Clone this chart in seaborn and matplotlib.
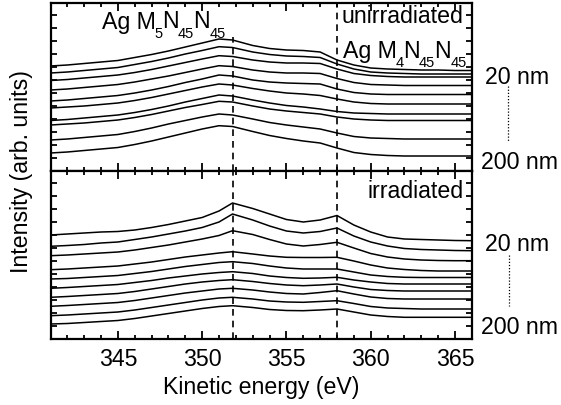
import matplotlib
matplotlib.use("Agg")
import matplotlib.pyplot as plt
from matplotlib.ticker import MultipleLocator
from matplotlib.lines import Line2D
import seaborn as sns
import pandas as pd

# ---------------- data ----------------
energy = [341, 342, 343, 344, 345, 346, 347, 348, 349, 350, 351, 351.8, 353,
          354, 355, 356, 357, 358, 359, 360, 361, 362, 363, 364, 365, 366]

depths_nm = [20, 40, 60, 80, 100, 120, 140, 160, 180, 200]

# unirradiated, offset spectra (arb. units), top = 20 nm
unirr_20 = [105, 106, 107.5, 109, 110.5, 113.5, 116.5, 120, 124, 128, 132, 131, 125.5, 122.5, 121, 120.5, 119, 111, 106, 103, 102, 101.5, 101, 101, 100.5, 100.5]
unirr_40 = [98, 99, 100.5, 102, 103.5, 106.5, 109.5, 113, 117, 120.5, 124.3, 123.5, 119, 116.5, 115, 114.5, 113.5, 107, 102, 99, 98, 97.5, 97, 97, 97, 97]
unirr_60 = [90.5, 91.5, 93, 94.5, 96, 98.5, 101.5, 105, 108.5, 112, 115.3, 114.5, 111, 109, 108, 108, 107.5, 102, 97.5, 95.5, 94.5, 94, 94, 94, 94, 94]
unirr_80 = [81, 82, 83.5, 85, 86.5, 89, 92, 95, 98.5, 102, 105.3, 104.5, 101, 99, 98, 98, 97.5, 92.5, 88.5, 86.5, 86, 85.5, 85.5, 85.5, 85.5, 85.5]
unirr_100 = [70, 71, 72.5, 74, 75.5, 78, 81, 84.5, 88.5, 92, 96, 95, 91, 89, 88, 87.5, 87, 82, 78.5, 77, 76.5, 76.5, 76.5, 76.5, 76.5, 76.5]
unirr_120 = [63, 64, 65, 66.5, 68, 70.5, 73.5, 77, 80.5, 84, 87, 86, 82.5, 80, 78, 77, 75.5, 72, 69, 67.5, 67, 67, 67, 67, 67, 67]
unirr_140 = [50.5, 51.5, 53, 54.5, 56, 58.5, 61.5, 65, 69, 72.5, 76, 75, 71, 68, 65.5, 64, 62, 59.5, 58, 57.5, 57, 57, 57, 57, 57, 57]
unirr_160 = [46, 47, 48, 49.5, 51, 53.5, 56.5, 60, 63.5, 66.5, 69.7, 69, 65, 62, 60, 58.5, 57, 54, 52, 51, 50.5, 50.5, 50.5, 50.5, 50.5, 50.5]
unirr_180 = [31, 32, 33.5, 35, 36.5, 39.5, 43, 47, 50.5, 54, 57, 56, 52, 48.5, 46, 44, 42, 38, 34.5, 33, 32.5, 32, 32, 32, 32, 32]
unirr_200 = [18, 19, 20.5, 22, 23.5, 26.5, 30, 34, 38, 42, 45.3, 44.5, 39.5, 35.5, 32.5, 30, 28, 23, 18.5, 16.5, 15.5, 15, 15, 15, 15, 15]

# irradiated, offset spectra (arb. units), top = 20 nm
irr_20 = [104, 105, 106, 107, 107.5, 109, 111.5, 114.5, 118, 121.5, 128, 136, 130.5, 125, 119.5, 117, 119, 123.5, 114, 107, 102, 100, 99.5, 99, 98.5, 98.3]
irr_40 = [92.7, 93.5, 94.5, 96, 97, 99.5, 102, 105, 108, 111.5, 117, 125, 119, 113, 108, 106, 107.5, 111, 103, 97, 93, 90.5, 89.5, 89, 88.5, 88.3]
irr_60 = [83.3, 84, 85, 86, 87, 89, 91.5, 94, 97, 100, 103.5, 108.3, 104.5, 99.5, 95, 93, 94.5, 96.7, 91, 85.5, 82, 80, 79, 78.5, 78.3, 78.3]
irr_80 = [69.3, 70, 71, 72, 73, 75, 77, 79.5, 82, 84, 86, 87.3, 85, 83, 81.7, 81.5, 81.5, 81.7, 78, 74, 71, 69.5, 68.5, 68, 68, 68]
irr_100 = [60, 60.5, 61.5, 62.5, 63.5, 65.5, 67.5, 70, 72.5, 74.5, 76.5, 77.3, 75.5, 73, 71, 70, 70, 70, 67, 64, 62.5, 61.7, 61.5, 61.5, 61.5, 61.5]
irr_120 = [50.7, 51.5, 52.5, 53.5, 54.5, 56.5, 58.5, 61, 63, 65, 66.5, 67.3, 65.5, 63, 61.5, 60.7, 61, 61.7, 59, 57, 55.5, 55, 55, 55, 55, 55]
irr_140 = [41.7, 42.5, 43.5, 44.5, 45.5, 47.5, 50, 52.5, 55, 57, 58.5, 59.3, 57.5, 55.5, 54, 53.3, 54, 55, 52, 49.5, 48.5, 48, 48, 48, 48, 48]
irr_160 = [32.7, 33.5, 34.5, 35.5, 36.5, 38.5, 41, 43.5, 46, 48, 50, 50.7, 49, 47, 45.5, 45, 46.5, 48.3, 45, 42, 40.5, 40, 40, 40, 40, 40]
irr_180 = [23.3, 24, 25, 26, 27, 29, 31.5, 34, 36.5, 39, 41, 41.7, 40, 38, 37, 36.7, 37.5, 38.3, 35.5, 32.5, 31, 30.5, 30, 30, 30, 30]
irr_200 = [15, 15.5, 16.5, 17.5, 18.5, 20.5, 23, 25.5, 28, 30.5, 32.5, 33.3, 31.5, 29.5, 28.5, 28.3, 29, 30, 27, 24, 22.5, 21.7, 21.7, 21.7, 21.7, 21.7]

unirradiated = [unirr_20, unirr_40, unirr_60, unirr_80, unirr_100,
                unirr_120, unirr_140, unirr_160, unirr_180, unirr_200]
irradiated = [irr_20, irr_40, irr_60, irr_80, irr_100,
              irr_120, irr_140, irr_160, irr_180, irr_200]

peak_positions = [351.8, 358.0]
x_ticks = [345, 350, 355, 360, 365]


def long_frame(spectra):
    rows = []
    for d, spec in zip(depths_nm, spectra):
        for e, v in zip(energy, spec):
            rows.append({"energy": e, "intensity": v, "depth": d})
    return pd.DataFrame(rows)


df_unirr = long_frame(unirradiated)
df_irr = long_frame(irradiated)

# ---------------- style ----------------
sns.set_style("ticks")
plt.rcParams["font.family"] = ["Liberation Sans", "DejaVu Sans"]
for key in ("text.color", "axes.labelcolor", "xtick.color", "ytick.color",
            "axes.edgecolor"):
    plt.rcParams[key] = "black"

FS = 16.7
SUB = 10.5
W, H = 561, 406
fig = plt.figure(figsize=(W / 100, H / 100), dpi=100)

left_px, right_px = 50.5, 471.8
top_px, mid_px, bot_px = 4, 172, 340
ax_w = (right_px - left_px) / W
ax_h = (mid_px - top_px) / H
ax_top = fig.add_axes([left_px / W, 1 - mid_px / H, ax_w, ax_h])
ax_bot = fig.add_axes([left_px / W, 1 - bot_px / H, ax_w, ax_h])

for ax, df in ((ax_top, df_unirr), (ax_bot, df_irr)):
    sns.lineplot(data=df, x="energy", y="intensity", units="depth",
                 estimator=None, color="black", linewidth=1.1,
                 legend=False, sort=False, ax=ax)
    ax.set_xlim(341, 366)
    ax.set_ylim(0, 168)
    ax.set_xticks(x_ticks)
    ax.xaxis.set_minor_locator(MultipleLocator(1))
    ax.yaxis.set_major_locator(MultipleLocator(13))
    ax.tick_params(axis="both", which="both", direction="in",
                   top=True, right=True, width=1.3, colors="black")
    ax.tick_params(axis="x", which="major", length=6)
    ax.tick_params(axis="x", which="minor", length=3.2)
    ax.tick_params(axis="y", which="major", length=4.5)
    ax.set_yticklabels([])
    ax.set_ylabel("")
    ax.set_xlabel("")
    for s in ax.spines.values():
        s.set_linewidth(1.6)
        s.set_color("black")

ax_top.tick_params(axis="x", labelbottom=False)
ax_bot.tick_params(axis="x", labelsize=FS, pad=6)

# dashed reference lines
ax_top.axvline(peak_positions[0], ymin=0, ymax=0.8, color="black",
               lw=1.2, ls=(0, (4, 3)))
ax_top.axvline(peak_positions[1], color="black", lw=1.2, ls=(0, (4, 3)))
for p in peak_positions:
    ax_bot.axvline(p, color="black", lw=1.2, ls=(0, (4, 3)))


def auger_label(ax, x0, y0, sub1):
    """Draw 'Ag M_sub1 N_45 N_45' with low, small subscripts (axes coords)."""
    pieces = [("Ag M", False), (sub1, True), ("N", False), ("45", True),
              ("N", False), ("45", True)]
    prev = None
    for s, is_sub in pieces:
        size = SUB if is_sub else FS
        dy = -6.5 if is_sub else 0.0
        if prev is None:
            prev = ax.text(x0, y0, s, transform=ax.transAxes, ha="left",
                           va="baseline", fontsize=size)
        else:
            prev = ax.annotate(s, xy=(1, y0), xycoords=(prev, "axes fraction"),
                               xytext=(-0.6, dy), textcoords="offset points",
                               ha="left", va="baseline", fontsize=size)


auger_label(ax_top, 0.122, (172 - 28.5) / 168, "5")
auger_label(ax_top, 0.694, (172 - 58) / 168, "4")
ax_top.text(0.98, 0.995, "unirradiated", transform=ax_top.transAxes,
            ha="right", va="top", fontsize=FS)
ax_bot.text(0.98, 0.95, "irradiated", transform=ax_bot.transAxes,
            ha="right", va="top", fontsize=FS)

# depth markers on the right
for y20, y200, yd0, yd1, xd in ((77, 163, 87, 143, 508), (245, 328, 256, 307, 509)):
    fig.text(485 / W, 1 - y20 / H, "20 nm", ha="left", va="center", fontsize=FS)
    fig.text(481 / W, 1 - y200 / H, "200 nm", ha="left", va="center", fontsize=FS)
    fig.add_artist(Line2D([xd / W, xd / W], [1 - yd0 / H, 1 - yd1 / H],
                          transform=fig.transFigure, color="black", lw=0.9,
                          ls=(0, (1, 1.5))))

fig.text(22 / W, 1 - 172 / H, "Intensity (arb. units)", rotation=90,
         ha="center", va="center", fontsize=FS)
fig.text((left_px + right_px) / 2 / W, 1 - 388 / H, "Kinetic energy (eV)",
         ha="center", va="center", fontsize=FS)

fig.savefig("out.png", dpi=100)
